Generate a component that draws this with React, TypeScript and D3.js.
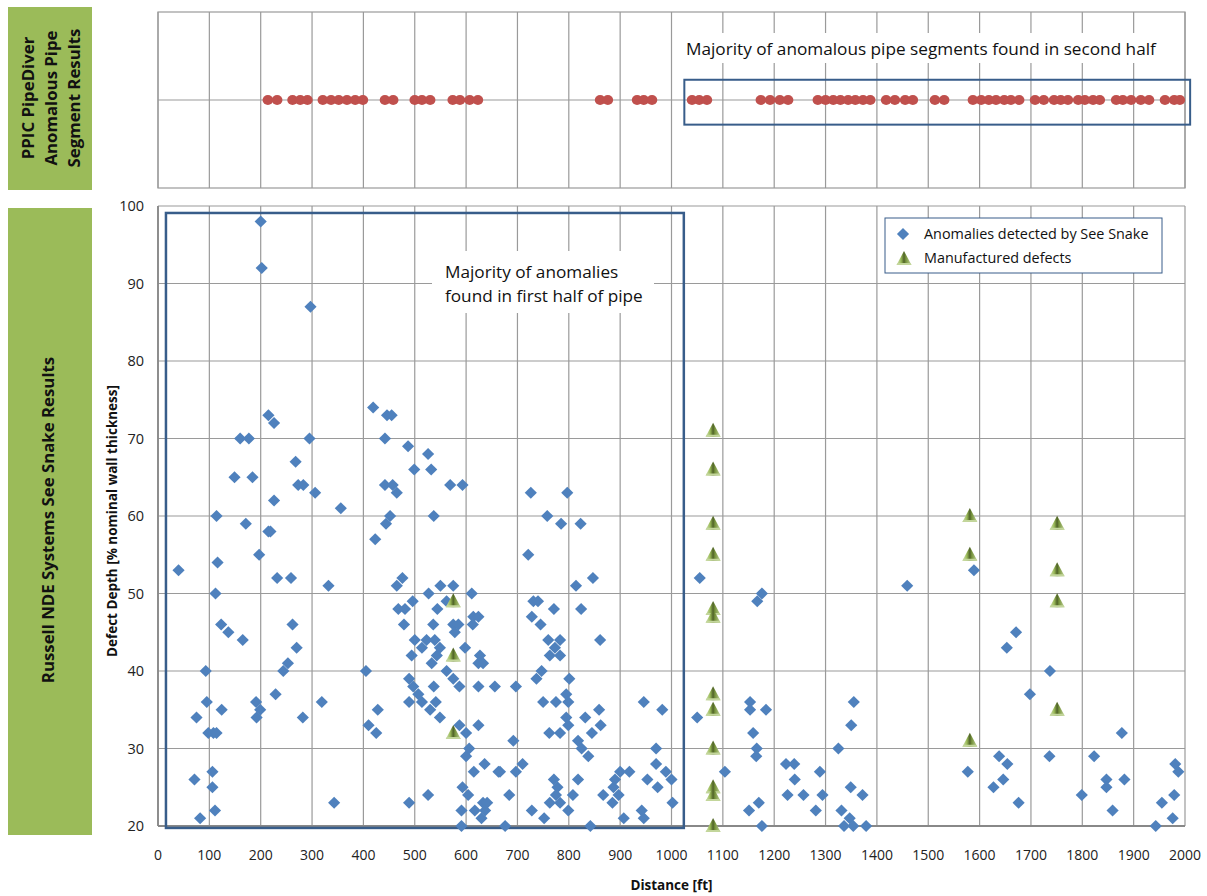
import React, { useEffect, useRef } from "react";
import * as d3 from "d3";

// distance ticks [ft] and depth ticks [% nominal wall thickness]
const distanceTicks = [0, 100, 200, 300, 400, 500, 600, 700, 800, 900, 1000, 1100, 1200, 1300, 1400, 1500, 1600, 1700, 1800, 1900, 2000];
const depthTicks = [20, 30, 40, 50, 60, 70, 80, 90, 100];

// PipeDiver anomalous segment positions [ft]
const pipeSegments = [
  214, 232, 262, 277, 291, 321, 337, 352, 368, 384, 399, 442, 458, 500, 514, 530, 574, 588, 607, 623,
  861, 876, 933, 946, 962, 1040, 1054, 1069, 1174, 1192, 1211, 1227, 1285, 1300, 1315, 1329, 1344,
  1358, 1373, 1387, 1418, 1435, 1455, 1470, 1513, 1531, 1587, 1603, 1618, 1632, 1648, 1661, 1677,
  1708, 1725, 1745, 1758, 1772, 1792, 1805, 1821, 1834, 1866, 1879, 1895, 1914, 1930, 1961, 1979, 1990,
];

// See Snake anomalies [distance ft, depth %]
const anomalies: [number, number][] = [
  [40, 53], [75, 34], [71, 26], [82, 21], [93, 40], [95, 36], [98, 32], [108, 32], [114, 32], [106, 27],
  [106, 25], [111, 22], [112, 50], [114, 60], [116, 54], [123, 46], [124, 35], [137, 45], [149, 65],
  [160, 70], [165, 44], [171, 59], [177, 70], [184, 65], [191, 36], [192, 34], [197, 55], [199, 35],
  [200, 98], [202, 92], [215, 73], [215, 58], [219, 58], [226, 72], [226, 62], [229, 37], [232, 52],
  [244, 40], [253, 41], [259, 52], [262, 46], [268, 67], [270, 43], [273, 64], [282, 34], [283, 64],
  [295, 70], [297, 87],
  [306, 63], [319, 36], [332, 51], [343, 23], [356, 61], [405, 40], [410, 33], [419, 74], [423, 57],
  [425, 32], [428, 35], [442, 70], [442, 64], [444, 59], [446, 73], [452, 60], [455, 73], [457, 64],
  [465, 63], [465, 51], [468, 48], [476, 52], [479, 46], [481, 48], [487, 69], [489, 39], [489, 36],
  [489, 23], [494, 42], [496, 49], [497, 38], [499, 66], [500, 44], [507, 37], [514, 36], [514, 43],
  [523, 44], [526, 68], [526, 24], [527, 50], [530, 35], [532, 66], [533, 41], [536, 46], [537, 60],
  [537, 38], [539, 44], [541, 36], [543, 42], [544, 48], [549, 43], [549, 34], [550, 51], [562, 49],
  [562, 40], [569, 64], [575, 51], [575, 46], [575, 39], [578, 45], [585, 46], [587, 38], [587, 33],
  [591, 22], [591, 20], [593, 64], [593, 25], [598, 43], [600, 32], [600, 29], [604, 24], [606, 30],
  [611, 50], [613, 46], [614, 47], [615, 27], [617, 22], [624, 47], [627, 42], [624, 41], [633, 41],
  [624, 38], [624, 33], [630, 21], [633, 23], [641, 23], [637, 22], [636, 28], [656, 38], [663, 27],
  [666, 27], [676, 20], [684, 24], [692, 31], [697, 38], [697, 27], [710, 28], [721, 55], [726, 63],
  [728, 47], [728, 22], [731, 49], [737, 39], [740, 49], [745, 46], [747, 40], [750, 36], [752, 21],
  [758, 60], [760, 44], [762, 32], [763, 42], [763, 23], [771, 48], [771, 26], [773, 43], [775, 36],
  [775, 24], [778, 25], [783, 44], [783, 42], [783, 32], [783, 23], [785, 59], [795, 37], [795, 34],
  [797, 63], [799, 36], [799, 33], [799, 22], [801, 39], [808, 24], [814, 51], [818, 31], [818, 26],
  [823, 59], [824, 48], [825, 30], [832, 34], [838, 29], [842, 20], [845, 32], [847, 52], [859, 35],
  [861, 44], [862, 33], [867, 24], [885, 23], [887, 25], [890, 26], [897, 24], [900, 27], [907, 21],
  [918, 27], [942, 22], [946, 36], [946, 21], [953, 26], [970, 30], [970, 28], [973, 25], [982, 35],
  [989, 27], [1000, 26], [1002, 23],
  [1050, 34], [1055, 52], [1104, 27], [1151, 22], [1153, 36], [1153, 35], [1159, 32], [1165, 29],
  [1166, 30], [1167, 49], [1170, 23], [1176, 50], [1176, 20], [1184, 35], [1223, 28], [1226, 24],
  [1239, 28], [1240, 26], [1257, 24], [1281, 22], [1289, 27], [1294, 24], [1325, 30], [1331, 22],
  [1336, 20], [1347, 21], [1349, 25], [1350, 33], [1354, 20], [1355, 36], [1372, 24], [1379, 20],
  [1459, 51], [1577, 27], [1589, 53], [1627, 25], [1638, 29], [1646, 26], [1653, 43], [1654, 28],
  [1671, 45], [1676, 23], [1698, 37], [1736, 29], [1737, 40], [1799, 24], [1823, 29], [1847, 26],
  [1847, 25], [1859, 22], [1877, 32], [1882, 26], [1943, 20], [1955, 23], [1976, 21], [1979, 24],
  [1981, 28], [1987, 27],
];

// manufactured defects [distance ft, depth %]
const manufactured: [number, number][] = [
  [575, 49], [575, 42], [575, 32],
  [1081, 71], [1081, 66], [1081, 59], [1081, 55], [1081, 48], [1081, 47], [1081, 37], [1081, 35],
  [1081, 30], [1081, 25], [1081, 24], [1081, 20],
  [1581, 60], [1581, 55], [1581, 31],
  [1751, 59], [1751, 53], [1751, 49], [1751, 35],
];

const FONT = "'Open Sans', sans-serif";
const GRID = "#9a9a9a";
const BOX = "#385d8a";

const App = () => {
  const svgRef = useRef<SVGSVGElement>(null);

  useEffect(() => {
    document.body.style.margin = "0";
    const svg = d3.select(svgRef.current);
    svg.selectAll("*").remove();

    const x = d3.scaleLinear().domain([0, 2000]).range([158, 1185]);
    const y = d3.scaleLinear().domain([20, 100]).range([826, 206]);
    const yTop = d3.scaleLinear().domain([-1, 1]).range([188, 12]);

    // gradient for the defect pyramids
    const grad = svg.append("defs").append("linearGradient").attr("id", "pyr")
      .attr("x1", "0").attr("x2", "1").attr("y1", "0").attr("y2", "0");
    [["0", "#d7e4bd"], ["0.3", "#9bbb59"], ["0.5", "#4f6228"], ["0.62", "#76923c"], ["1", "#c3d69b"]]
      .forEach(([o, c]) => grad.append("stop").attr("offset", o).attr("stop-color", c));

    // green side labels
    svg.append("rect").attr("x", 8).attr("y", 7).attr("width", 84).attr("height", 183).attr("fill", "#9bbb59");
    svg.append("rect").attr("x", 8).attr("y", 208).attr("width", 84).attr("height", 627).attr("fill", "#9bbb59");

    const topLbl = svg.append("text")
      .attr("transform", `translate(51,98) rotate(-90)`)
      .attr("text-anchor", "middle").style("font-family", FONT).style("font-size", "16.8px")
      .style("font-weight", "bold").attr("fill", "#111");
    ["PPIC PipeDiver", "Anomalous Pipe", "Segment Results"].forEach((t, i) => {
      topLbl.append("tspan").attr("x", 0).attr("y", (i - 1) * 23 + 6).text(t);
    });
    svg.append("text")
      .attr("transform", `translate(48,520) rotate(-90)`)
      .attr("y", 6)
      .attr("text-anchor", "middle").style("font-family", FONT).style("font-size", "16.8px")
      .style("font-weight", "bold").attr("fill", "#111")
      .text("Russell NDE Systems See Snake Results");

    // ---- top panel ----
    const top = svg.append("g");
    top.selectAll(".vgt").data(distanceTicks).enter().append("line")
      .attr("x1", (d) => x(d)).attr("x2", (d) => x(d))
      .attr("y1", yTop(1)).attr("y2", yTop(-1)).attr("stroke", GRID).attr("stroke-width", 1.2);
    top.append("line").attr("x1", x(0)).attr("x2", x(2000)).attr("y1", yTop(0)).attr("y2", yTop(0))
      .attr("stroke", GRID).attr("stroke-width", 1.2);
    top.append("rect").attr("x", x(0)).attr("y", yTop(1)).attr("width", x(2000) - x(0))
      .attr("height", yTop(-1) - yTop(1)).attr("fill", "none").attr("stroke", GRID).attr("stroke-width", 1.2);

    top.append("rect").attr("x", 680).attr("y", 33).attr("width", 490).attr("height", 30).attr("fill", "white");
    top.append("text").attr("x", 686).attr("y", 55).style("font-family", FONT).style("font-size", "17.2px")
      .attr("fill", "#111").text("Majority of anomalous pipe segments found in second half");

    top.selectAll(".seg").data(pipeSegments).enter().append("ellipse")
      .attr("cx", (d) => x(d)).attr("cy", yTop(0)).attr("rx", 5.3).attr("ry", 5)
      .attr("fill", "#c0504d");

    top.append("rect").attr("x", x(1025)).attr("y", yTop(0.23))
      .attr("width", x(2010) - x(1025)).attr("height", yTop(-0.28) - yTop(0.23))
      .attr("fill", "none").attr("stroke", BOX).attr("stroke-width", 2);

    // ---- main panel ----
    const g = svg.append("g");
    g.selectAll(".hg").data(depthTicks).enter().append("line")
      .attr("x1", x(0)).attr("x2", x(2000)).attr("y1", (d) => y(d)).attr("y2", (d) => y(d))
      .attr("stroke", GRID).attr("stroke-width", 1.2);
    g.selectAll(".vg").data(distanceTicks).enter().append("line")
      .attr("x1", (d) => x(d)).attr("x2", (d) => x(d)).attr("y1", y(100)).attr("y2", y(20))
      .attr("stroke", GRID).attr("stroke-width", 1.2);
    g.append("line").attr("x1", x(0)).attr("x2", x(2000)).attr("y1", y(20)).attr("y2", y(20))
      .attr("stroke", "#888").attr("stroke-width", 1.8);
    g.append("line").attr("x1", x(0)).attr("x2", x(0)).attr("y1", y(100)).attr("y2", y(20))
      .attr("stroke", "#888").attr("stroke-width", 1.8);

    // tick labels
    g.selectAll(".xt").data(distanceTicks).enter().append("text")
      .attr("x", (d) => x(d)).attr("y", 860).attr("text-anchor", "middle")
      .style("font-family", FONT).style("font-size", "14px").attr("fill", "#222").text((d) => d);
    g.selectAll(".yt").data(depthTicks).enter().append("text")
      .attr("x", 144).attr("y", (d) => y(d) + 5).attr("text-anchor", "end")
      .style("font-family", FONT).style("font-size", "14.5px").attr("fill", "#222").text((d) => d);

    g.append("text").attr("x", x(1000) + 0).attr("y", 890).attr("text-anchor", "middle")
      .style("font-family", FONT).style("font-size", "13.5px").style("font-weight", "bold").attr("fill", "#111")
      .text("Distance [ft]");
    g.append("text").attr("transform", `translate(117,521) rotate(-90)`).attr("text-anchor", "middle")
      .style("font-family", FONT).style("font-size", "13.5px").style("font-weight", "bold").attr("fill", "#111")
      .text("Defect Depth [% nominal wall thickness]");

    // first half annotation box
    g.append("rect").attr("x", x(15.5)).attr("y", y(99.1))
      .attr("width", x(1024) - x(15.5)).attr("height", y(19.75) - y(99.1))
      .attr("fill", "none").attr("stroke", BOX).attr("stroke-width", 2.5);

    g.append("rect").attr("x", 432).attr("y", 251).attr("width", 222).attr("height", 62).attr("fill", "white");
    const ann = g.append("text").style("font-family", FONT).style("font-size", "17.2px").attr("fill", "#111");
    ann.append("tspan").attr("x", 445).attr("y", 278).text("Majority of anomalies");
    ann.append("tspan").attr("x", 445).attr("y", 302).text("found in first half of pipe");

    const diamond = d3.symbol(d3.symbolSquare, 74);
    g.selectAll(".an").data(anomalies).enter().append("path")
      .attr("d", diamond)
      .attr("transform", (d) => `translate(${x(d[0])},${y(d[1])}) rotate(45)`)
      .attr("fill", "#4f81bd");

    const pyramid = "M0,-8 L7.5,6 L-7.5,6 Z";
    const mf = g.selectAll(".mf").data(manufactured).enter().append("g")
      .attr("transform", (d) => `translate(${x(d[0])},${y(d[1])})`);
    mf.append("path").attr("d", pyramid).attr("fill", "url(#pyr)");
    mf.append("path").attr("d", "M-7.5,6 L7.5,6 L6.4,4 L-6.4,4 Z").attr("fill", "#c3d69b");

    // legend
    const lg = g.append("g");
    lg.append("rect").attr("x", 885).attr("y", 218).attr("width", 277).attr("height", 55)
      .attr("fill", "white").attr("stroke", BOX).attr("stroke-width", 1);
    lg.append("path").attr("d", diamond).attr("transform", "translate(903,234) rotate(45)").attr("fill", "#4f81bd");
    lg.append("text").attr("x", 924).attr("y", 239).style("font-family", FONT).style("font-size", "14.4px")
      .attr("fill", "#111").text("Anomalies detected by See Snake");
    const lgp = lg.append("g").attr("transform", "translate(904,259)");
    lgp.append("path").attr("d", pyramid).attr("fill", "url(#pyr)");
    lgp.append("path").attr("d", "M-7.5,6 L7.5,6 L6.4,4 L-6.4,4 Z").attr("fill", "#c3d69b");
    lg.append("text").attr("x", 924).attr("y", 263).style("font-family", FONT).style("font-size", "14.4px")
      .attr("fill", "#111").text("Manufactured defects");
  });

  return (
    <div style={{ position: "absolute", left: 0, top: 0 }}>
      <svg ref={svgRef} width={1207} height={896} style={{ display: "block", background: "white" }}></svg>
    </div>
  );
};

export default App;
